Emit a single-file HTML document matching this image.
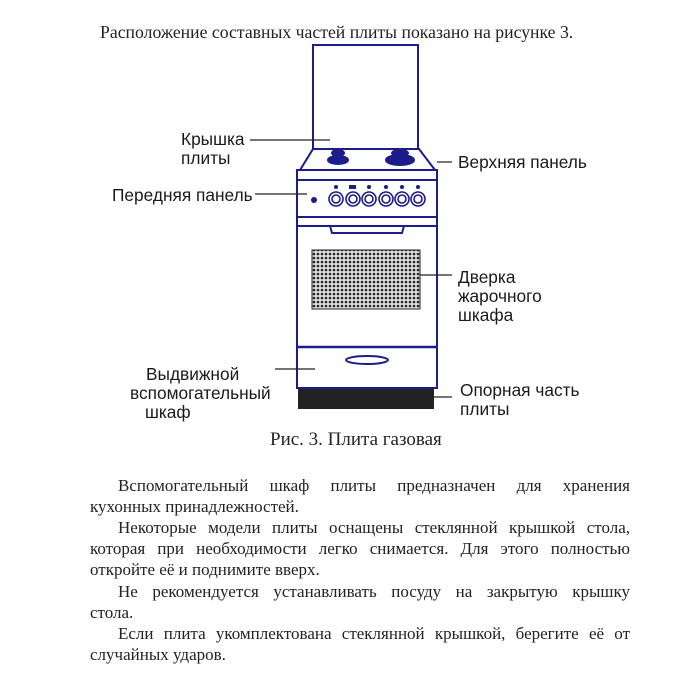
<!DOCTYPE html>
<html><head><meta charset="utf-8"><style>
body{margin:0;width:700px;height:700px;background:#fff;position:relative;overflow:hidden;font-family:"Liberation Serif",serif;color:#222}
.l{position:absolute;font-family:"Liberation Sans",sans-serif;font-size:17.3px;line-height:19px;color:#1a1a1a;white-space:nowrap}
.t{position:absolute;font-size:17px;white-space:nowrap}
.j{position:absolute;left:90px;width:540px;font-size:17px;white-space:nowrap;text-align:justify;text-align-last:justify}
</style></head><body>
<div class="t" style="left:100px;top:22px;font-size:17.7px">Расположение составных частей плиты показано на рисунке 3.</div>
<svg width="700" height="460" style="position:absolute;left:0;top:0">
<defs><pattern id="d" width="4" height="4" patternUnits="userSpaceOnUse"><rect width="4" height="4" fill="#ddd"/><circle cx="2" cy="2" r="1.3" fill="#222"/></pattern></defs>
<g stroke="#1c1c8a" stroke-width="2" fill="none">
<rect x="313" y="45" width="105" height="104"/>
<path d="M313 149 L300 170 L435 170 L419 149 Z"/>
<rect x="297" y="170" width="140" height="218"/>
<line x1="297" y1="180" x2="437" y2="180"/>
<line x1="297" y1="217" x2="437" y2="217"/>
<line x1="297" y1="226" x2="437" y2="226"/>
<path d="M330 226 L332 233 L402 233 L404 226"/>
<line x1="297" y1="347" x2="437" y2="347" stroke-width="2.5"/>
<ellipse cx="367" cy="360" rx="21" ry="4"/>
<ellipse cx="338" cy="160" rx="10" ry="4" fill="#1c1c8a"/>
<ellipse cx="400" cy="160" rx="14" ry="5" fill="#1c1c8a"/>
<ellipse cx="338" cy="153" rx="6" ry="3" fill="#1c1c8a"/>
<ellipse cx="400" cy="153" rx="8" ry="3" fill="#1c1c8a"/>
<g stroke-width="1.6">
<circle cx="336" cy="199" r="7"/><circle cx="353" cy="199" r="7"/><circle cx="369" cy="199" r="7"/><circle cx="386" cy="199" r="7"/><circle cx="402" cy="199" r="7"/><circle cx="418" cy="199" r="7"/>
<circle cx="336" cy="199" r="4"/><circle cx="353" cy="199" r="4"/><circle cx="369" cy="199" r="4"/><circle cx="386" cy="199" r="4"/><circle cx="402" cy="199" r="4"/><circle cx="418" cy="199" r="4"/>
</g>
<g fill="#1c1c8a" stroke="none"><circle cx="336" cy="187" r="2"/><rect x="349" y="185" width="7" height="4"/><circle cx="369" cy="187" r="2"/><circle cx="386" cy="187" r="2"/><circle cx="402" cy="187" r="2"/><circle cx="418" cy="187" r="2"/><circle cx="314" cy="200" r="3"/></g>
</g>
<rect x="312" y="250" width="108" height="59" fill="url(#d)" stroke="#222"/>
<rect x="298" y="389" width="136" height="20" fill="#222"/>
<g stroke="#222" stroke-width="1.2">
<line x1="250" y1="140" x2="330" y2="140"/>
<line x1="255" y1="194" x2="307" y2="194"/>
<line x1="437" y1="162" x2="452" y2="162"/>
<line x1="420" y1="275" x2="452" y2="275"/>
<line x1="275" y1="369" x2="315" y2="369"/>
<line x1="434" y1="397" x2="452" y2="397"/>
</g>
</svg>
<div class="l" style="left:181px;top:130px">Крышка<br>плиты</div>
<div class="l" style="left:112px;top:186px">Передняя панель</div>
<div class="l" style="left:458px;top:153px">Верхняя панель</div>
<div class="l" style="left:458px;top:268px">Дверка<br>жарочного<br>шкафа</div>
<div class="l" style="left:146px;top:365px">Выдвижной</div>
<div class="l" style="left:130px;top:384px">вспомогательный</div>
<div class="l" style="left:145px;top:403px">шкаф</div>
<div class="l" style="left:460px;top:381px">Опорная часть<br>плиты</div>
<div class="t" style="left:270px;top:429px;font-size:19px">Рис. 3. Плита газовая</div>
<div class="j" style="top:476px;left:118px;width:512px">Вспомогательный шкаф плиты предназначен для хранения</div>
<div class="t" style="left:90px;top:497px">кухонных принадлежностей.</div>
<div class="j" style="top:518px;left:118px;width:512px">Некоторые модели плиты оснащены стеклянной крышкой стола,</div>
<div class="j" style="top:539px">которая при необходимости легко снимается. Для этого полностью</div>
<div class="t" style="left:90px;top:560px">откройте её и поднимите вверх.</div>
<div class="j" style="top:582px;left:118px;width:512px">Не рекомендуется устанавливать посуду на закрытую крышку</div>
<div class="t" style="left:90px;top:603px">стола.</div>
<div class="j" style="top:624px;left:118px;width:512px">Если плита укомплектована стеклянной крышкой, берегите её от</div>
<div class="t" style="left:90px;top:645px">случайных ударов.</div>
</body></html>
